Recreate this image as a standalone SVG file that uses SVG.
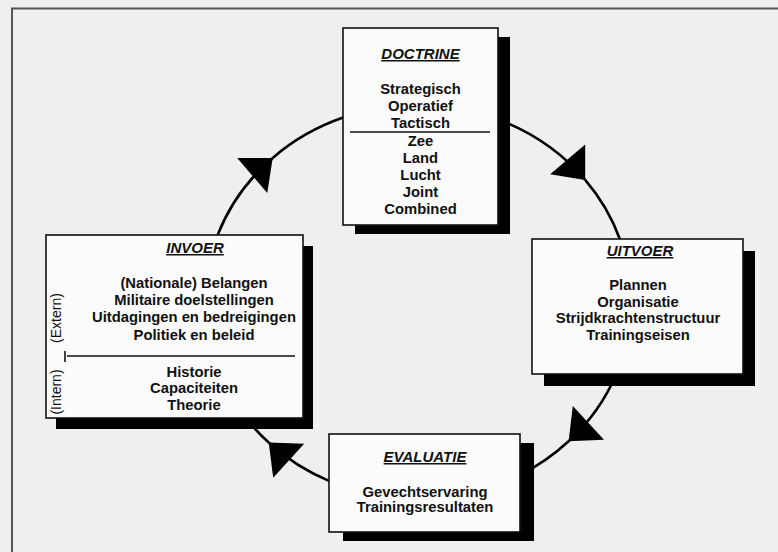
<svg xmlns="http://www.w3.org/2000/svg" width="778" height="552" viewBox="0 0 778 552">
  <style>
    .frame { stroke: #555; stroke-width: 2; fill: none; }
    .conn { stroke: #000; stroke-width: 2.6; fill: none; }
    .shadow { fill: #000; }
    .box { fill: #fbfbfb; stroke: #111; stroke-width: 1.6; }
    .t { font-family: "Liberation Sans", Arial, Helvetica, sans-serif; font-weight: bold; font-size: 14.8px; fill: #111; text-anchor: middle; }
    .title { font-style: italic; font-size: 15px; text-decoration: underline; }
    .side { font-family: "Liberation Sans", Arial, Helvetica, sans-serif; font-size: 14px; fill: #111; text-anchor: middle; }
    .div { stroke: #111; stroke-width: 1.6; }
  </style>
  <defs>
    <marker id="arrow" markerUnits="userSpaceOnUse" viewBox="-29 -25 31 50" refX="0" refY="0" markerWidth="31" markerHeight="50" orient="auto">
      <path d="M0,0 L-27,-23 L-27,23 Z" fill="#000"/>
    </marker>
  </defs>

  <rect x="0" y="0" width="778" height="552" fill="#efefef"/>
  <path class="frame" d="M12,552 L12,8.5 L778,8.5"/>

  <g id="connectors">
    <path class="conn" d="M217.7,234.9 A213,197 0 0 1 272.7,157.9" marker-end="url(#arrow)"/>
    <path class="conn" d="M272.7,157.9 A213,197 0 0 1 343.1,117.6"/>
    <path class="conn" d="M497.8,119.3 A213,197 0 0 1 585.2,179.9" marker-end="url(#arrow)"/>
    <path class="conn" d="M585.2,179.9 A213,197 0 0 1 619.8,239.0"/>
    <path class="conn" d="M616.3,373.9 A213,197 0 0 1 568.6,441.3" marker-end="url(#arrow)"/>
    <path class="conn" d="M568.6,441.3 A213,197 0 0 1 520.0,475.0"/>
    <path class="conn" d="M330.0,481.4 A213,197 0 0 1 268.7,442.5" marker-end="url(#arrow)"/>
    <path class="conn" d="M268.7,442.5 A213,197 0 0 1 245.9,418.1"/>
  </g>

  <g id="doctrine">
    <rect class="shadow" x="355" y="37" width="155" height="197"/>
    <rect class="box" x="343" y="28" width="155" height="197"/>
    <text class="t title" x="420.5" y="59">DOCTRINE</text>
    <text class="t" x="420.5" y="94">Strategisch</text>
    <text class="t" x="420.5" y="111">Operatief</text>
    <text class="t" x="420.5" y="128">Tactisch</text>
    <line class="div" x1="350" y1="132" x2="490" y2="132"/>
    <text class="t" x="420.5" y="146">Zee</text>
    <text class="t" x="420.5" y="163">Land</text>
    <text class="t" x="420.5" y="180">Lucht</text>
    <text class="t" x="420.5" y="197">Joint</text>
    <text class="t" x="420.5" y="214">Combined</text>
  </g>

  <g id="invoer">
    <rect class="shadow" x="56" y="246" width="257" height="183"/>
    <rect class="box" x="46" y="235" width="257" height="183"/>
    <text class="t title" x="195" y="253">INVOER</text>
    <text class="t" x="194" y="288">(Nationale) Belangen</text>
    <text class="t" x="194" y="305">Militaire doelstellingen</text>
    <text class="t" x="194" y="322">Uitdagingen en bedreigingen</text>
    <text class="t" x="194" y="340">Politiek en beleid</text>
    <line class="div" x1="67" y1="356" x2="295" y2="356"/>
    <line class="div" x1="65" y1="351" x2="65" y2="362"/>
    <text class="t" x="194" y="377">Historie</text>
    <text class="t" x="194" y="393">Capaciteiten</text>
    <text class="t" x="194" y="410">Theorie</text>
    <text class="side" transform="translate(61,318) rotate(-90)">(Extern)</text>
    <text class="side" transform="translate(61,392) rotate(-90)">(Intern)</text>
  </g>

  <g id="uitvoer">
    <rect class="shadow" x="544" y="251" width="211" height="135"/>
    <rect class="box" x="532" y="239" width="211" height="135"/>
    <text class="t title" x="640" y="256">UITVOER</text>
    <text class="t" x="638" y="290">Plannen</text>
    <text class="t" x="638" y="307">Organisatie</text>
    <text class="t" x="638" y="323">Strijdkrachtenstructuur</text>
    <text class="t" x="638" y="340">Trainingseisen</text>
  </g>

  <g id="evaluatie">
    <rect class="shadow" x="343" y="443" width="191" height="98"/>
    <rect class="box" x="329" y="434" width="191" height="98"/>
    <text class="t title" x="425" y="462">EVALUATIE</text>
    <text class="t" x="425" y="497">Gevechtservaring</text>
    <text class="t" x="425" y="512">Trainingsresultaten</text>
  </g>
</svg>
